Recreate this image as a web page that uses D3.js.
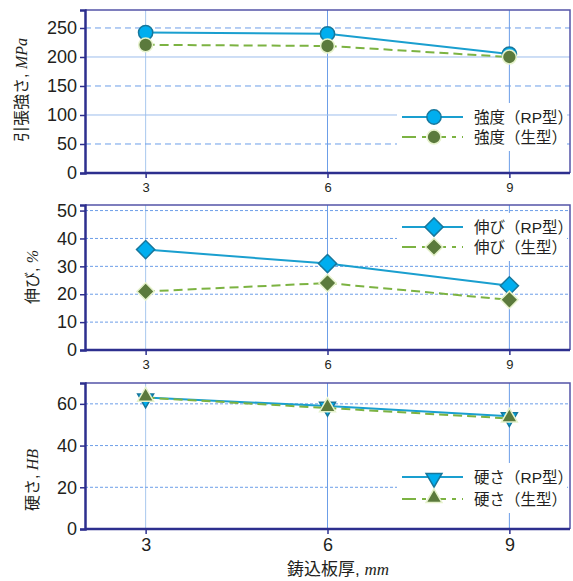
<!DOCTYPE html>
<html>
<head>
<meta charset="utf-8">
<script src="https://cdn.jsdelivr.net/npm/d3@7"></script>
<style>
  body { margin: 0; background: #fff; }
  svg text { font-family: "Liberation Sans", Arial, "Noto Sans CJK JP", sans-serif; fill: #231f20; }
  .jp { font-family: "Liberation Sans", "Noto Sans CJK JP", sans-serif; }
  .it { font-family: "Liberation Serif", serif; font-style: italic; }
</style>
</head>
<body>
<svg width="573" height="581"></svg>
<script>
// 鋳込板厚 (mm)
const thickness = [3, 6, 9];
// 引張強さ MPa
const strengthRP = [242, 240, 205];
const strengthGreen = [221, 219, 200];
// 伸び %
const elongRP = [36, 31, 23];
const elongGreen = [21, 24, 18];
// 硬さ HB
const hardRP = [63, 59, 54];
const hardGreen = [63, 58, 53];

const strengthTicks = [0, 50, 100, 150, 200, 250];
const elongTicks = [0, 10, 20, 30, 40, 50];
const hardTicks = [0, 20, 40, 60];

const blue = "#1a9fcf", blueFill = "#00aeef", blueEdge = "#17779c";
const green = "#7cb342", greenFill = "#5b7a3c", greenEdge = "#e6f2cc";

const svg = d3.select("svg");
const left = 85, right = 570;
const x = d3.scaleLinear().domain([2, 10]).range([left, right]);

function drawPanel(p) {
  const y = d3.scaleLinear().domain([0, p.max]).range([p.bottom, p.top]);
  const g = svg.append("g");

  // vertical grid
  g.selectAll(".vg").data(thickness).enter().append("line")
    .attr("x1", d => x(d)).attr("x2", d => x(d))
    .attr("y1", p.top).attr("y2", p.bottom)
    .attr("stroke", (d, i) => i == 0 ? "#a9c8ee" : "#6c9ee8").attr("stroke-width", 1);

  // horizontal grid
  g.selectAll(".hg").data(p.ticks.filter(d => d > 0)).enter().append("line")
    .attr("x1", left).attr("x2", right)
    .attr("y1", d => y(d)).attr("y2", d => y(d))
    .attr("stroke", d => p.solid.includes(d) ? "#9dbdec" : "#6c9ee8")
    .attr("stroke-width", 1)
    .attr("stroke-dasharray", d => p.solid.includes(d) ? null : p.dash);

  // legend background
  g.append("rect").attr("x", 397).attr("y", p.legY - 14)
    .attr("width", 170).attr("height", p.legGap + 28).attr("fill", "#fff");

  // frame top/right
  g.append("path")
    .attr("d", `M${left},${p.top}H${right}V${p.bottom}`)
    .attr("fill", "none").attr("stroke", "#5454a8").attr("stroke-width", 1.5);

  // axes
  const ya = d3.axisLeft(y).tickValues(p.ticks).tickSize(5).tickFormat(d3.format("d"));
  const ay = g.append("g").attr("transform", `translate(${left},0)`).call(ya);
  ay.select(".domain").attr("stroke", "#2d2f8e").attr("stroke-width", 2.5);
  ay.selectAll(".tick line").attr("stroke", "#2d2f8e").attr("stroke-width", 1.5);
  ay.selectAll(".tick text").attr("font-size", 18).attr("x", -8)
    .style("font-family", "Liberation Sans, Arial, sans-serif").attr("fill", "#231f20");

  const xa = d3.axisBottom(x).tickValues(thickness).tickSize(5).tickFormat(d3.format("d"));
  const ax = g.append("g").attr("transform", `translate(0,${p.bottom})`).call(xa);
  ax.select(".domain").attr("stroke", "#2d2f8e").attr("stroke-width", 2.5)
    .attr("d", `M${left},0H${right}`);
  ax.selectAll(".tick line").attr("stroke", "#2d2f8e").attr("stroke-width", 1.5);
  ax.selectAll(".tick text").attr("font-size", p.xFont).attr("y", p.xLabY)
    .style("font-family", "Liberation Sans, Arial, sans-serif").attr("fill", "#231f20");

  // series
  const series = [
    { vals: p.rp, stroke: blue, dash: null, fill: blueFill, edge: blueEdge, sym: p.symRP, rot: p.rotRP, label: p.labelRP },
    { vals: p.gr, stroke: green, dash: "9,5", fill: greenFill, edge: greenEdge, sym: p.symGR, rot: p.rotGR, label: p.labelGR }
  ];
  const line = d3.line().x((d, i) => x(thickness[i])).y(d => y(d));
  series.forEach((s, k) => {
    g.append("path").datum(s.vals).attr("d", line)
      .attr("fill", "none").attr("stroke", s.stroke).attr("stroke-width", 2)
      .attr("stroke-dasharray", s.dash);
    g.selectAll(".m" + k).data(s.vals).enter().append("path")
      .attr("d", d3.symbol().type(s.sym.type).size(s.sym.size))
      .attr("transform", (d, i) => `translate(${x(thickness[i])},${y(d) + (s.sym.dy || 0)}) rotate(${s.rot})`)
      .attr("fill", s.fill).attr("stroke", s.edge).attr("stroke-width", 1.5);

    // legend row
    const ly = p.legY + k * p.legGap;
    g.append("line").attr("x1", 402).attr("x2", 463).attr("y1", ly).attr("y2", ly)
      .attr("stroke", s.stroke).attr("stroke-width", 2).attr("stroke-dasharray", s.dash ? "14,6,4,6" : null);
    g.append("path").attr("d", d3.symbol().type(s.sym.type).size(s.sym.size))
      .attr("transform", `translate(434,${ly + (s.sym.dy || 0)}) rotate(${s.rot})`)
      .attr("fill", s.fill).attr("stroke", s.edge).attr("stroke-width", 1.5);
    g.append("text").attr("class", "jp").attr("x", 474).attr("y", ly + 5.5)
      .attr("font-size", 15.5).text(s.label);
  });

  // y title
  const t = g.append("text").attr("class", "jp").attr("font-size", 16)
    .attr("text-anchor", "middle")
    .attr("transform", `translate(${p.titleX},${p.titleY}) rotate(-90)`);
  t.append("tspan").text(p.title + ", ");
  t.append("tspan").attr("class", "it").text(p.unit);
}

drawPanel({
  top: 10, bottom: 173, max: 281, ticks: strengthTicks, solid: [100, 200], dash: "6,4",
  rp: strengthRP, gr: strengthGreen,
  symRP: { type: d3.symbolCircle, size: 160 }, rotRP: 0,
  symGR: { type: d3.symbolCircle, size: 150 }, rotGR: 0,
  labelRP: "強度（RP型）", labelGR: "強度（生型）",
  legY: 117, legGap: 20, xFont: 13, xLabY: 10,
  title: "引張強さ", unit: "MPa", titleX: 27, titleY: 90
});

drawPanel({
  top: 205, bottom: 350, max: 52, ticks: elongTicks, solid: [], dash: "3,2",
  rp: elongRP, gr: elongGreen,
  symRP: { type: d3.symbolSquare, size: 165 }, rotRP: 45,
  symGR: { type: d3.symbolSquare, size: 150 }, rotGR: 45,
  labelRP: "伸び（RP型）", labelGR: "伸び（生型）",
  legY: 227, legGap: 20, xFont: 13, xLabY: 10,
  title: "伸び", unit: "%", titleX: 38, titleY: 277
});

drawPanel({
  top: 383, bottom: 529, max: 70, ticks: hardTicks, solid: [], dash: "3,2",
  rp: hardRP, gr: hardGreen,
  symRP: { type: d3.symbolTriangle, size: 110, dy: 1 }, rotRP: 180,
  symGR: { type: d3.symbolTriangle, size: 110, dy: -1 }, rotGR: 0,
  labelRP: "硬さ（RP型）", labelGR: "硬さ（生型）",
  legY: 477, legGap: 22, xFont: 18, xLabY: 9,
  title: "硬さ", unit: "HB", titleX: 38, titleY: 480
});

// x title
const xt = svg.append("text").attr("class", "jp").attr("x", 287).attr("y", 575).attr("font-size", 17);
xt.append("tspan").text("鋳込板厚, ");
xt.append("tspan").attr("class", "it").text("mm");
</script>
</body>
</html>
